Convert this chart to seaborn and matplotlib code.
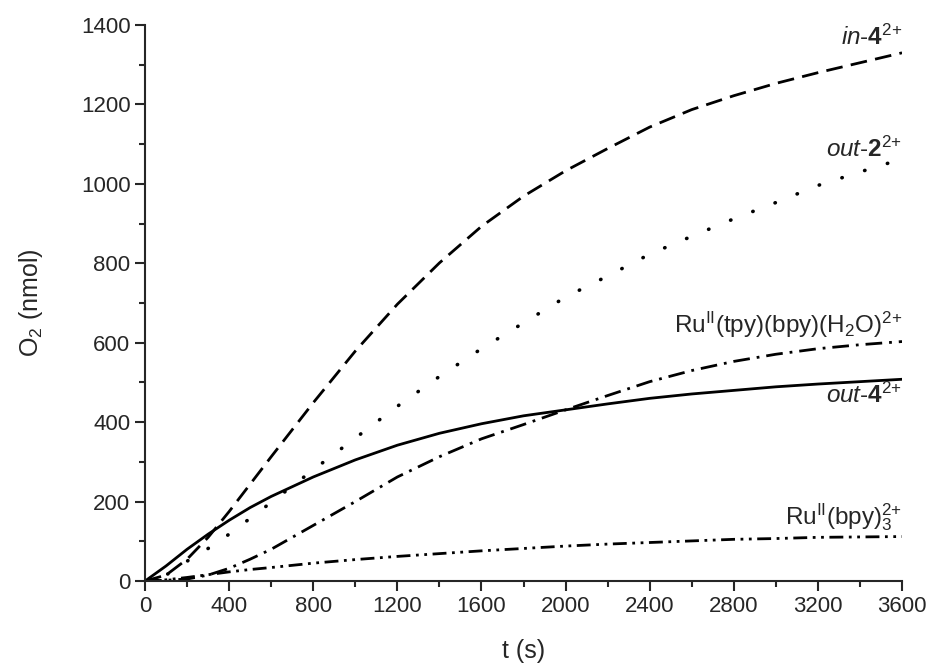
import numpy as np
import pandas as pd
import seaborn as sns
import matplotlib
matplotlib.use("Agg")
import matplotlib.pyplot as plt
from matplotlib.ticker import MultipleLocator

# ---- data ----
t = [0, 100, 200, 300, 400, 500, 600, 800, 1000, 1200, 1400, 1600, 1800,
     2000, 2200, 2400, 2600, 2800, 3000, 3200, 3400, 3600]
in4 = [0, 15, 55, 110, 175, 244, 313, 449, 579, 697, 801, 893, 969,
       1033, 1089, 1143, 1187, 1222, 1253, 1280, 1305, 1330]
out2 = [0, 15, 50, 82, 118, 158, 198, 280, 360, 440, 515, 585, 650,
        715, 768, 823, 868, 912, 953, 996, 1030, 1063]
tpy = [0, 2, 5, 15, 32, 55, 80, 140, 200, 262, 313, 358, 394,
       431, 467, 502, 530, 553, 571, 585, 595, 603]
out4 = [0, 38, 80, 118, 153, 185, 213, 262, 305, 342, 372, 396, 416,
        431, 446, 460, 471, 480, 489, 496, 502, 508]
bpy3 = [0, 3, 9, 16, 23, 29, 34, 45, 54, 62, 69, 76, 82,
        88, 93, 97, 101, 105, 107, 110, 111, 112]

series_names = ["in4", "out2", "tpy", "out4", "bpy3"]
series_vals = [in4, out2, tpy, out4, bpy3]

label_texts = [r"$\mathit{in}$-$\mathbf{4}^{2{+}}$",
               r"$\mathit{out}$-$\mathbf{2}^{2{+}}$",
               r"Ru$^{II}$(tpy)(bpy)(H$_2$O)$^{2{+}}$",
               r"$\mathit{out}$-$\mathbf{4}^{2{+}}$",
               r"Ru$^{II}$(bpy$)_3^{2{+}}$"]
label_y = [1370, 1086, 645, 468, 161]

df = pd.concat([pd.DataFrame({"t": t, "O2": v, "series": n})
                for n, v in zip(series_names, series_vals)], ignore_index=True)

sns.set_style("ticks")
plt.rcParams["font.family"] = ["Liberation Sans", "DejaVu Sans"]
plt.rcParams["mathtext.fontset"] = "custom"
plt.rcParams["mathtext.rm"] = "Liberation Sans"
plt.rcParams["mathtext.it"] = "Liberation Sans:italic"
plt.rcParams["mathtext.bf"] = "Liberation Sans:bold"
plt.rcParams["mathtext.default"] = "regular"

fig = plt.figure(figsize=(9.28, 6.69), dpi=100)
ax = fig.add_axes([0.1563, 0.1315, 0.972 - 0.1563, 0.9626 - 0.1315])

dashes = {"in4": (6, 3), "out2": (0.1, 6.5), "tpy": (6, 2.5, 1, 2.5),
          "out4": "", "bpy3": (5, 2, 1, 2, 1, 2)}
sns.lineplot(data=df, x="t", y="O2", style="series", dashes=dashes,
             color="black", linewidth=2.0, legend=False, ax=ax,
             style_order=series_names)
for line, n in zip(ax.get_lines(), series_names):
    if n == "out2":
        line.set_dash_capstyle("round")
        line.set_linewidth(2.6)

ax.set_xlim(0, 3600)
ax.set_ylim(0, 1400)
ax.xaxis.set_major_locator(MultipleLocator(400))
ax.xaxis.set_minor_locator(MultipleLocator(200))
ax.yaxis.set_major_locator(MultipleLocator(200))
ax.yaxis.set_minor_locator(MultipleLocator(100))
ax.tick_params(which="major", length=7, width=1.5, labelsize=16, direction="out")
ax.tick_params(which="minor", length=4.5, width=1.5, direction="out")
for s in ["top", "right"]:
    ax.spines[s].set_visible(False)
for s in ["left", "bottom"]:
    ax.spines[s].set_linewidth(1.5)
    ax.spines[s].set_clip_on(False)

ax.set_xlabel("t (s)", fontsize=18, labelpad=16)
ax.set_ylabel("O$_2$ (nmol)", fontsize=18, labelpad=26)

for txt, yv in zip(label_texts, label_y):
    ax.text(3600, yv, txt, ha="right", va="center", fontsize=17.5)

fig.savefig("out.png", dpi=100)
